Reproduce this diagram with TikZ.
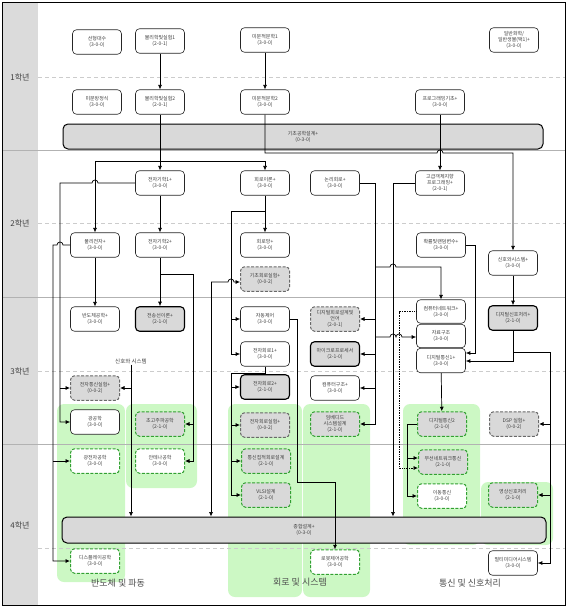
\documentclass[tikz,border=0pt]{standalone}
\usepackage{fontspec}
\setmainfont{Noto Sans CJK KR}
\usetikzlibrary{arrows.meta}
\definecolor{ggreen}{RGB}{50,160,50}
\definecolor{lgreen}{RGB}{204,248,196}
\definecolor{ngray}{RGB}{217,217,217}
\definecolor{dgray}{RGB}{105,105,105}
\begin{document}
\begin{tikzpicture}[x=1pt,y=-1pt,
  box/.style={rounded corners=4pt, minimum width=49pt, minimum height=24.5pt, inner sep=0.5pt, align=center, font=\fontsize{5}{6}\selectfont, text=black!75},
  plain/.style={box, draw=black!85, line width=0.6pt, fill=white},
  graydash/.style={box, draw=dgray, dash pattern=on 3pt off 1.5pt, line width=1pt, fill=ngray},
  graysolid/.style={box, draw=black, line width=1.1pt, fill=ngray},
  greengray/.style={box, draw=ggreen, dash pattern=on 3pt off 1.5pt, line width=1pt, fill=ngray},
  greenwhite/.style={box, draw=ggreen, dash pattern=on 3pt off 1.5pt, line width=1pt, fill=white},
  barbox/.style={rounded corners=5pt, draw=black, line width=1pt, fill=ngray, align=center, font=\fontsize{5}{6}\selectfont, text=black!75, inner sep=0pt},
  region/.style={fill=lgreen, rounded corners=7pt},
  yearlab/.style={font=\fontsize{8}{9}\selectfont, text=black!75},
  grouplab/.style={font=\fontsize{9}{10}\selectfont, text=black!70},
  arr/.style={draw=black, line width=0.7pt, -{Latex[length=4.5pt,width=4pt]}},
  sepsolid/.style={draw=gray!60, line width=0.8pt},
  sepdash/.style={draw=gray!40, line width=0.8pt, dash pattern=on 4pt off 3pt}
]
\useasboundingbox (0,0) rectangle (572,607);
% year column
\fill[gray!28] (2,3) rectangle (38,605);
% green regions
\fill[region] (57,404) rectangle (125,582);
\fill[region] (126,404) rectangle (197,488);
\fill[region] (228,404) rectangle (302,597);
\fill[region] (303,404) rectangle (370,597);
\fill[region] (403,404) rectangle (480,545);
\fill[region] (481,482) rectangle (553,545);
% separators
\draw[sepsolid] (2,150) -- (565,150);
\draw[sepsolid] (2,297) -- (565,297);
\draw[sepsolid] (2,444) -- (565,444);
\draw[sepdash] (38,77) -- (565,77);
\draw[sepdash] (38,223) -- (565,223);
\draw[sepdash] (38,371) -- (565,371);
\draw[sepdash] (38,548) -- (565,548);
\draw[black, line width=1pt] (2,3) rectangle (565,605);
% year labels
\node[yearlab] (y1) at (20,77) {1학년};
\node[yearlab] (y2) at (20,223) {2학년};
\node[yearlab] (y3) at (20,371) {3학년};
\node[yearlab] (y4) at (20,525) {4학년};
% group labels
\node[grouplab] (g1) at (118,583) {반도체 및 파동};
\node[grouplab] (g2) at (300,582) {회로 및 시스템};
\node[grouplab] (g3) at (470,583) {통신 및 신호처리};
% bars
\node[barbox, minimum width=480pt, minimum height=25pt] (bar1) at (303,136.5) {기초공학설계+\\(0-3-0)};
\node[barbox, minimum width=484pt, minimum height=26pt] (bar2) at (304,530) {종합설계+\\(0-3-0)};
% year 1
\node[plain] (n11) at (97,42) {선형대수\\(3-0-0)};
\node[plain] (n12) at (160,41) {물리학및실험1\\(2-0-1)};
\node[plain] (n13) at (265,40) {미분적분학1\\(3-0-0)};
\node[plain] (n14) at (514,40) {일반화학/\\일반생물(택1)+\\(3-0-0)};
\node[plain] (n15) at (97,102) {미분방정식\\(3-0-0)};
\node[plain] (n16) at (160,102) {물리학및실험2\\(2-0-1)};
\node[plain] (n17) at (265,102) {미분적분학2\\(3-0-0)};
\node[plain] (n18) at (440,102) {프로그래밍기초+\\(3-0-0)};
% year 2
\node[plain] (n21) at (160,183) {전자기학1+\\(3-0-0)};
\node[plain] (n22) at (265,183) {회로이론+\\(3-0-0)};
\node[plain] (n23) at (335,183) {논리회로+\\(3-0-0)};
\node[plain] (n24) at (440,183) {고급객체지향\\프로그래밍+\\(2-0-1)};
\node[plain] (n25) at (95,245) {물리전자+\\(3-0-0)};
\node[plain] (n26) at (160,245) {전자기학2+\\(3-0-0)};
\node[plain] (n27) at (265,245) {회로망+\\(3-0-0)};
\node[plain] (n28) at (441,245) {확률및랜덤변수+\\(3-0-0)};
\node[plain] (n29) at (513,263) {신호와시스템+\\(3-0-0)};
\node[graydash] (n2a) at (265,279) {기초회로실험+\\(0-0-2)};
% year 3
\node[plain] (n31) at (95,319) {반도체공학+\\(3-0-0)};
\node[graysolid] (n32) at (160,319) {전송선이론+\\(2-1-0)};
\node[plain] (n33) at (265,319) {자동제어\\(3-0-0)};
\node[graydash] (n34) at (335,319) {디지털회로설계및\\언어\\(2-0-1)};
\node[plain, minimum height=23.5pt] (n35) at (441,311.5) {컴퓨터네트워크+\\(3-0-0)};
\node[graysolid] (n36) at (513,318) {디지털신호처리+\\(2-1-0)};
\node[plain, minimum height=23.5pt] (n37) at (441,336) {자료구조\\(3-0-0)};
\node[plain] (n38) at (441,360.5) {디지털통신1+\\(3-0-0)};
\node[plain] (n39) at (265,354) {전자회로1+\\(3-0-0)};
\node[graysolid] (n3a) at (335,354) {마이크로프로세서\\(2-1-0)};
\node[font=\fontsize{5.5}{6.5}\selectfont, text=black!75, inner sep=1pt] (lab) at (131,361) {신호와 시스템};
\node[graydash] (n3b) at (95,388) {전자통신실험+\\(0-0-2)};
\node[graysolid] (n3c) at (265,387) {전자회로2+\\(2-1-0)};
\node[plain] (n3d) at (335,388) {컴퓨터구조+\\(3-0-0)};
\node[plain] (n3e) at (95,422) {광공학\\(3-0-0)};
\node[greengray] (n3f) at (160,424) {초고주파공학\\(2-1-0)};
\node[graydash] (n3g) at (265,425) {전자회로실험+\\(0-0-2)};
\node[greengray] (n3h) at (335,424) {임베디드\\시스템설계\\(2-1-0)};
\node[greengray] (n3i) at (442,424) {디지털통신2\\(2-1-0)};
\node[graydash] (n3j) at (514,424) {DSP 실험+\\(0-0-2)};
% year 4
\node[greenwhite] (n41) at (95,461) {광전자공학\\(3-0-0)};
\node[greenwhite] (n42) at (160,461) {안테나공학\\(3-0-0)};
\node[greengray] (n43) at (266,461) {통신집적회로설계\\(2-1-0)};
\node[greengray] (n44) at (443,462) {무선네트워크통신\\(2-1-0)};
\node[greengray] (n45) at (266,495) {VLSI설계\\(2-1-0)};
\node[greenwhite] (n46) at (442,496) {이동통신\\(3-0-0)};
\node[greengray] (n47) at (513,495) {영상신호처리\\(2-1-0)};
\node[greenwhite] (n48) at (95,561) {디스플레이공학\\(3-0-0)};
\node[greenwhite] (n49) at (335,562) {로봇제어공학\\(3-0-0)};
\node[plain] (n4a) at (513,563) {멀티미디어시스템\\(3-0-0)};
% ---------- connectors ----------
\draw[arr] (n12) -- (n16);
\draw[arr] (n13) -- (n17);
\draw[arr] (n16) -- (n21);
\coordinate (j1) at (160,161);
\draw[arr] (j1) -| (n25.north);
\draw[arr] (j1) -| (n22.north);
\draw[arr] (n17.south) -- (265,153) -- (437,153) arc (180:360:3) -- (513,153) -- (n29.north);
\draw[arr] (n18) -- (n24);
% electromagnetics 1 -> left
\coordinate (j2) at (60,388);
\draw[arr] (n21.west) -- (98,183) arc (0:-180:3) -- (60,183) |- (n3e.west);
\draw[arr] (j2) -- (n3b.west);
% physical electronics -> left
\coordinate (j2b) at (53,461);
\draw[arr] (n25.west) -- (63,245) arc (0:-180:3) -- (53,245) |- (n48.west);
\draw[arr] (j2b) -- (n41.west);
\draw[arr] (n21) -- (n26);
\draw[arr] (n25) -- (n31);
\draw[arr] (n26) -- (n32);
\coordinate (j3) at (160,274);
\coordinate (j3b) at (193,424);
\draw[arr] (j3) -- (193,274) |- (n42.east);
\draw[arr] (j3b) -- (n3f.east);
% circuit theory
\draw[arr] (n22) -- (n27);
\coordinate (j5) at (265,211);
\coordinate (j5b) at (231,319);
\draw[arr] (j5) -- (231,211) |- (n39.west);
\draw[arr] (j5b) -- (n33.west);
% basic circuit lab line
\coordinate (j4) at (211,282);
\draw[arr] (j4) -- (228,282) arc (180:360:3) -- (n2a.west |- j4);
\draw[arr] (j4) -- (j4 |- bar2.north);
% logic circuits
\coordinate (k1) at (375,319);
\coordinate (k2) at (375,354);
\coordinate (k3) at (375,388);
\coordinate (k4) at (375,267);
\coordinate (k5) at (375,337);
\draw[arr] (n23.east) -- (375,183) |- (n3h.east);
\draw[arr] (k1) -- (n34.east);
\draw[arr] (k2) -- (n3a.east);
\draw[arr] (k3) -- (n3d.east);
\draw[arr] (k4) -- (390,267) arc (180:360:3) -- (441,267) -- (n35.north);
\draw[arr] (k5) -- (390,337) arc (180:360:3) -- (396,337) arc (180:360:3) -- (n37.west |- k5);
% OOP -> capstone
\draw[arr] (n24.west) -- (393,183) -- (393,183 |- bar2.north);
% probability -> digital comm 1
\coordinate (j6) at (475,353);
\draw[arr] (n28.east) -- (475,245) -- (j6) -- (n38.east |- j6);
% signals
\draw[arr] (n29) -- (n36);
\coordinate (j7) at (513,352);
\coordinate (j7a) at (550,424);
\coordinate (j7b) at (550,495);
\draw[arr] (n36.south) -- (j7) -- (550,352) |- (n4a.east);
\draw[arr] (j7a) -- (n3j.east);
\draw[arr] (j7b) -- (n47.east);
\draw[arr] (j7) -- (513,361) -- (n38.east |- 0,361);
% digital comm
\draw[arr] (n38) -- (n3i);
\coordinate (j8) at (407,458);
\draw[arr] (n3i.west) -- (407,424) |- (n46.west);
\draw[arr] (j8) -- (n44.west |- j8);
\draw[arr, densely dotted] (n35.west) -- (399,311.5) -- (399,468) -- (n44.west |- 0,468);
% automatic control -> robot
\draw[arr] (n33.east) -- (297,319) -- (297,482) -| (n49.north);
% electronic circuits 1
\coordinate (m1) at (231,387);
\coordinate (m2) at (231,425);
\coordinate (m3) at (231,461);
\draw[arr] (n39.south) -- (265,373) -- (231,373) |- (n45.west);
\draw[arr] (m1) -- (n3c.west);
\draw[arr] (m2) -- (n3g.west);
\draw[arr] (m3) -- (n43.west);
% signals label
\coordinate (s1) at (131,388);
\draw[arr] (lab.south) -- (lab.south |- bar2.north);
\draw[arr] (s1) -- (n3b.east);
\end{tikzpicture}
\end{document}
